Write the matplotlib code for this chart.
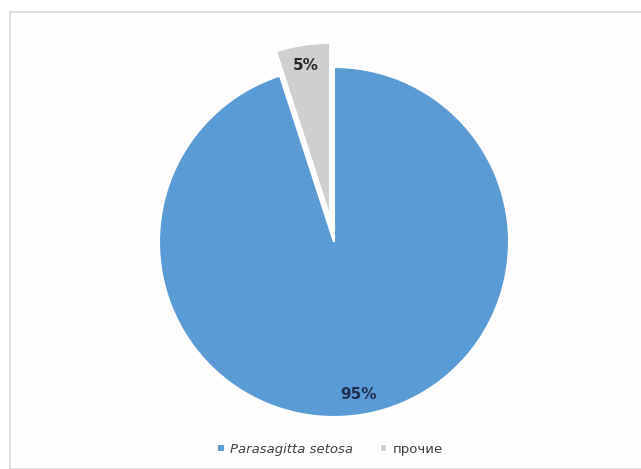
import matplotlib

matplotlib.use("Agg")

import matplotlib.pyplot as plt
from matplotlib.patches import Rectangle

# slice data: drawn counter-clockwise from 12 o'clock
labels = ["прочие", "Parasagitta setosa"]
shares = [5, 95]
colors = ["#CFCFCF", "#5B9BD5"]
explode = [0.14, 0.0]
legend_order = [1, 0]

W, H = 641, 469
cx, cy, r = 334, 242, 175  # pie centre / radius in pixels

fig = plt.figure(figsize=(W / 100, H / 100), dpi=100)
fig.patch.set_facecolor("white")

# light chart-area frame, kept behind the axes
fig.patches.append(Rectangle((10 / W, 0), 1, (H - 12) / H, transform=fig.transFigure,
                             facecolor="#FEFEFE", edgecolor="#DADADA", lw=1.2, zorder=-5))

ax = fig.add_axes([0, 0, 1, 1])
ax.set_facecolor("none")
wedges, _, autotexts = ax.pie(
    shares, colors=colors, explode=explode, startangle=90, counterclock=True,
    autopct="%d%%", pctdistance=0.88,
    wedgeprops=dict(edgecolor="white", linewidth=1.5),
    textprops=dict(fontsize=11, fontweight="bold"),
)
autotexts[0].set_color("#262626")
autotexts[1].set_color("#1F2D4D")
ax.set_aspect("auto")
ax.set_xlim(-cx / r, (W - cx) / r)
ax.set_ylim((cy - H) / r, cy / r)
ax.axis("off")

handles = [wedges[i] for i in legend_order]
names = [labels[i] for i in legend_order]
leg = fig.legend(handles, names, loc="center", bbox_to_anchor=(330 / W, 20 / H),
                 ncol=2, frameon=False, fontsize=9.5, handlelength=0.6, handleheight=0.6,
                 handletextpad=0.4, columnspacing=2.0)
leg.get_texts()[0].set_fontstyle("italic")
for t in leg.get_texts():
    t.set_color("#404040")

fig.savefig("out.png", dpi=100)
